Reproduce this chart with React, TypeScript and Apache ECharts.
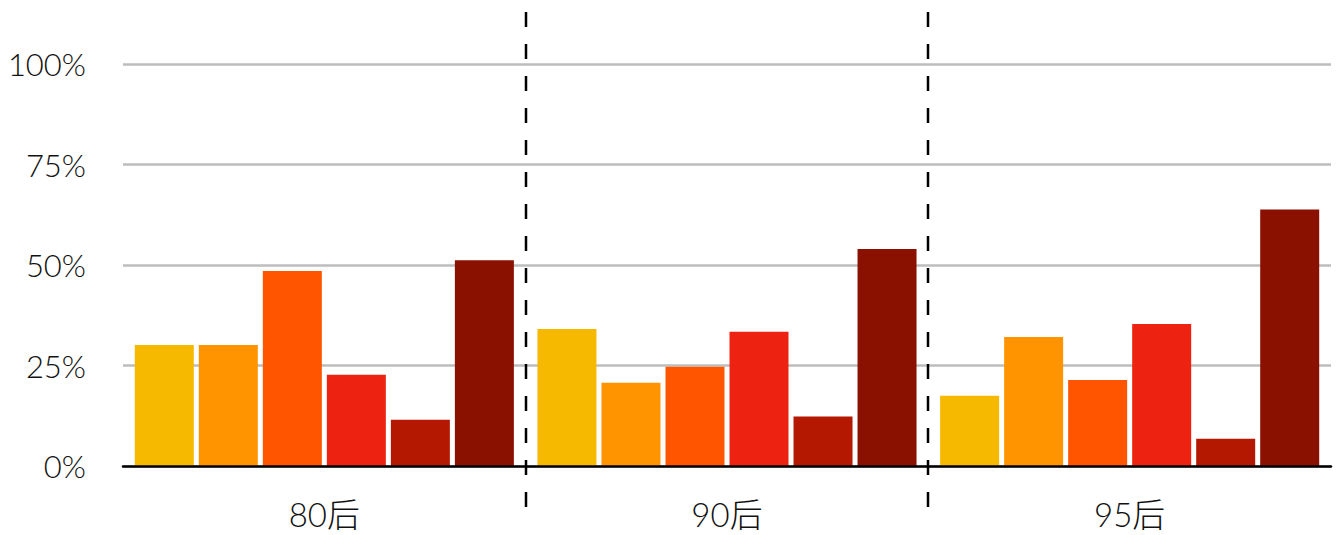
import React, { useEffect, useRef } from "react";
import * as echarts from "echarts";

const categories = ["80后", "90后", "95后"];
const yTicks = [0, 25, 50, 75, 100];
const seriesNames = ["A", "B", "C", "D", "E", "F"];
const seriesColors = ["#F6B900", "#FF9400", "#FF5500", "#EE2210", "#B41800", "#8A1000"];
const valuesA = [30.1, 34.1, 17.5];
const valuesB = [30.1, 20.7, 32.1];
const valuesC = [48.5, 24.7, 21.4];
const valuesD = [22.7, 33.4, 35.3];
const valuesE = [11.5, 12.3, 6.8];
const valuesF = [51.2, 54.0, 63.8];
const allValues = [valuesA, valuesB, valuesC, valuesD, valuesE, valuesF];

const FONT = 'Lato, "Noto Sans CJK SC", sans-serif';

export default function App() {
  const ref = useRef<HTMLDivElement>(null);
  useEffect(() => {
    if (!ref.current) return;
    const chart = echarts.init(ref.current, null, { renderer: "svg" });
    const gridTop = 64;
    const gridBottom = 69;
    chart.setOption({
      animation: false,
      grid: { left: 123, right: 7, top: gridTop, bottom: gridBottom, containLabel: false },
      xAxis: {
        type: "category",
        data: categories,
        z: 5,
        axisLine: { show: true, lineStyle: { color: "#000", width: 2.5 } },
        axisTick: { show: false },
        axisLabel: { color: "#111", fontSize: 33, fontWeight: 300, fontFamily: FONT, margin: 30, lineHeight: 36 },
      },
      yAxis: {
        type: "value",
        min: 0,
        max: 100,
        interval: 25,
        axisLine: { show: false },
        axisTick: { show: false },
        splitLine: { show: true, lineStyle: { color: "#bdbdbd", width: 2.5 } },
        axisLabel: {
          color: "#111",
          fontSize: 31,
          fontWeight: 300,
          fontFamily: FONT,
          margin: 37,
          formatter: (v: number) => (yTicks.includes(v) ? v + "%" : ""),
        },
      },
      series: seriesNames.map((name, i) => ({
        name,
        type: "bar",
        data: allValues[i],
        barWidth: 59,
        barGap: "8.5%",
        itemStyle: { color: seriesColors[i] },
      })),
    });

    const centers = categories.map((_, i) => chart.convertToPixel({ xAxisIndex: 0 }, i) as number);
    const axisY = chart.convertToPixel({ yAxisIndex: 0 }, 0) as number;
    const lines: any[] = [];
    for (let i = 0; i < centers.length - 1; i++) {
      const x = Math.round((centers[i] + centers[i + 1]) / 2);
      lines.push({
        type: "line",
        z: 10,
        shape: { x1: x, y1: 12, x2: x, y2: axisY + 44 },
        style: { stroke: "#000", lineWidth: 2.5, lineDash: [15, 17] },
      });
    }
    chart.setOption({ graphic: lines });

    return () => chart.dispose();
  }, []);
  return <div ref={ref} style={{ width: 1338, height: 535, position: "absolute", left: 0, top: 0 }} />;
}
